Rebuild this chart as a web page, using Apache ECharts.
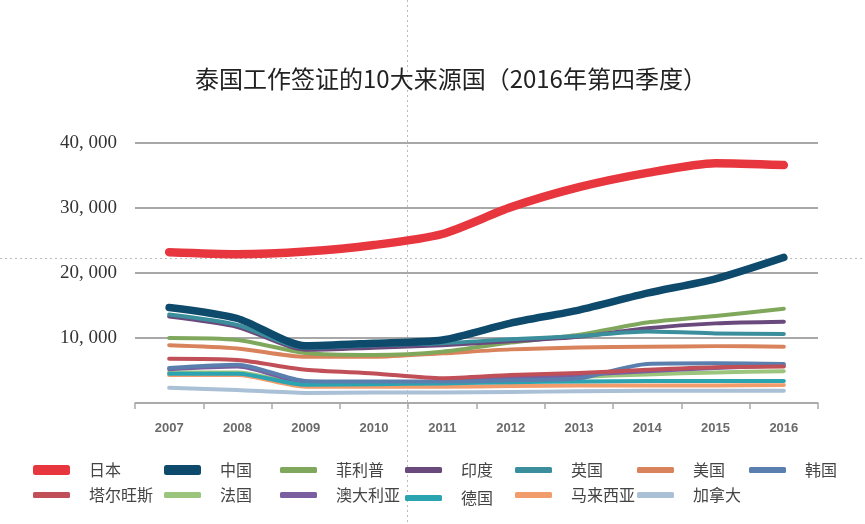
<!DOCTYPE html>
<html>
<head>
<meta charset="utf-8">
<script src="https://cdn.jsdelivr.net/npm/echarts@6/dist/echarts.min.js"></script>
<style>html,body{margin:0;padding:0;background:#fff;}#c{width:865px;height:524px;}</style>
</head>
<body>
<div id="c"></div>
<script>
const years = ['2007','2008','2009','2010','2011','2012','2013','2014','2015','2016'];
const names = ['日本','中国','菲利普','印度','英国','美国','韩国','塔尔旺斯','法国','澳大利亚','德国','马来西亚','加拿大'];
const japan       = [23200, 22900, 23300, 24300, 26000, 30100, 33200, 35400, 36900, 36600];
const china       = [14700, 13000, 8800, 9200, 9700, 12300, 14300, 16900, 19100, 22400];
const philippines = [10000, 9700, 7700, 7400, 7900, 9300, 10500, 12400, 13400, 14500];
const india       = [13300, 11700, 8200, 8500, 8900, 9500, 10200, 11500, 12250, 12500];
const uk          = [13600, 12000, 8500, 8900, 9200, 9800, 10300, 11000, 10700, 10600];
const usa         = [8900, 8400, 7100, 7100, 7650, 8250, 8550, 8650, 8750, 8650];
const korea       = [5400, 5900, 3400, 3300, 3300, 3500, 3800, 6000, 6100, 6000];
const tarwangs    = [6800, 6600, 5100, 4550, 3800, 4300, 4600, 5100, 5500, 5600];
const france      = [4700, 4700, 2900, 3000, 3100, 3400, 4000, 4400, 4700, 4900];
const australia   = [5200, 5600, 3200, 3200, 3300, 3800, 4300, 4900, 5400, 5800];
const germany     = [4500, 4500, 2800, 2900, 3000, 3200, 3300, 3400, 3400, 3400];
const malaysia    = [4300, 4300, 2500, 2500, 2500, 2600, 2700, 2700, 2700, 2750];
const canada      = [2350, 2000, 1550, 1600, 1600, 1700, 1800, 1900, 1900, 1900];
const yTicks = [0, 10000, 20000, 30000, 40000];

const values = [japan, china, philippines, india, uk, usa, korea, tarwangs, france, australia, germany, malaysia, canada];
const colors = ['#e8363f','#0d4a6b','#80a85c','#6a4a7c','#3b8e9c','#d9835c','#5a7fae','#c04f58','#9bc47c','#7b5e9f','#2ba4b2','#f29c6c','#a9c0d6'];
const widths = [8.5, 7.5, 4, 4, 4, 4, 4, 4, 4, 4, 4, 4, 4];
const zs =     [13, 12, 5, 6, 7, 4, 3, 3, 2, 2, 2, 1, 1];

// legend layout (positions only)
const legLeft = [33, 164, 280, 405, 515, 637, 749, 33, 164, 280, 405, 515, 637];
const legTop  = [462, 462, 462, 462, 462, 462, 462, 487, 487, 487, 490, 487, 487];

const chart = echarts.init(document.getElementById('c'), null, {renderer: 'canvas'});
const series = names.map((n, i) => ({
  name: n, type: 'line', data: values[i], smooth: 0.25, symbol: 'none', z: zs[i],
  lineStyle: {color: colors[i], width: widths[i], cap: 'round', join: 'round'},
  itemStyle: {color: colors[i]}
}));
const legends = names.map((n, i) => ({
  data: [n], left: legLeft[i], top: legTop[i], padding: 0, selectedMode: false,
  icon: 'roundRect', itemWidth: 37, itemHeight: i < 2 ? 10 : 6,
  textStyle: {fontFamily: 'Noto Sans CJK SC', fontSize: 16, color: '#444', padding: [0,0,0,14]}
}));
chart.setOption({
  animation: false,
  backgroundColor: '#fff',
  title: {
    text: '泰国工作签证的10大来源国（2016年第四季度）',
    left: 190, top: 62,
    textStyle: {fontFamily: 'Noto Sans CJK SC', fontSize: 24, fontWeight: 'normal', color: '#222'}
  },
  legend: legends,
  grid: {left: 135, right: 47, top: 143, bottom: 121},
  xAxis: {
    type: 'category', data: years, boundaryGap: true,
    axisLine: {lineStyle: {color: '#aaa', width: 1.5}},
    axisTick: {show: true, length: 6, lineStyle: {color: '#aaa', width: 1.5}},
    axisLabel: {margin: 19, fontFamily: 'Liberation Sans', fontSize: 13, fontWeight: 'bold', color: '#6a6a6a'}
  },
  yAxis: {
    type: 'value', min: yTicks[0], max: yTicks[yTicks.length - 1], interval: 10000,
    axisLine: {show: false}, axisTick: {show: false},
    splitLine: {lineStyle: {color: '#a8a8a8', width: 2}},
    axisLabel: {
      margin: 18, fontFamily: 'Liberation Serif', fontSize: 19, color: '#333',
      formatter: v => v === 0 ? '' : (v / 1000) + ', 000'
    }
  },
  graphic: [
    {type: 'line', z: -1, shape: {x1: 407.5, y1: 0, x2: 407.5, y2: 524}, style: {stroke: '#bbb', lineWidth: 1, lineDash: [2, 3]}},
    {type: 'line', z: -1, shape: {x1: 0, y1: 258.5, x2: 865, y2: 258.5}, style: {stroke: '#bbb', lineWidth: 1, lineDash: [2, 3]}}
  ],
  series: series
});
</script>
</body>
</html>
